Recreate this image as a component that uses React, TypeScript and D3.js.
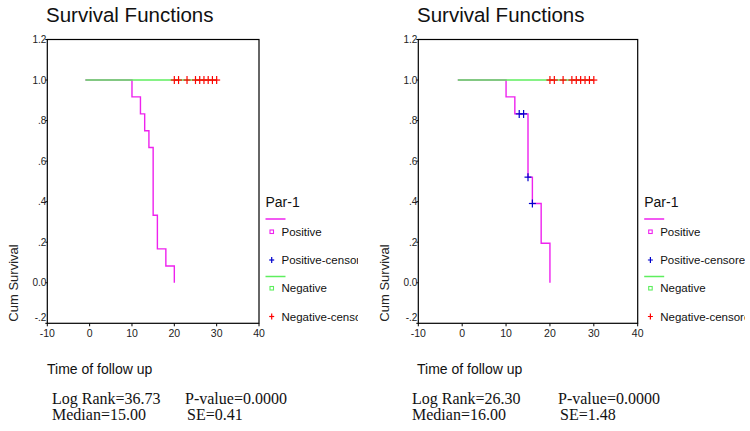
import React from "react";
import * as d3 from "d3";

const xTicks = [-10, 0, 10, 20, 30, 40];
const yTicks = [-0.2, 0, 0.2, 0.4, 0.6, 0.8, 1.0, 1.2];
const yTickLabels = ["-.2", "0.0", ".2", ".4", ".6", ".8", "1.0", "1.2"];

// Left panel
const leftPosTimes = [-1, 10, 12, 13, 14, 15, 16, 18, 20];
const leftPosSurv = [1, 0.917, 0.833, 0.75, 0.667, 0.333, 0.167, 0.083, 0];
const leftPosCensorTimes: number[] = [];
const leftPosCensorSurv: number[] = [];
// Right panel
const rightPosTimes = [-1, 10, 12, 15, 16, 18, 20];
const rightPosSurv = [1, 0.917, 0.833, 0.521, 0.391, 0.195, 0];
const rightPosCensorTimes = [13, 14, 15, 16];
const rightPosCensorSurv = [0.833, 0.833, 0.521, 0.391];
// Negative group (same in both)
const negTimes = [-1, 30];
const negSurv = [1, 1];
const negCensorTimes = [20, 21, 23, 25, 26, 27, 28, 29, 30];
const negCensorSurv = [1, 1, 1, 1, 1, 1, 1, 1, 1];

const legendTitle = "Par-1";
const legendLabels = ["Positive", "Positive-censored", "Negative", "Negative-censored"];

const leftStats = ["Log Rank=36.73", "P-value=0.0000", "Median=15.00", "SE=0.41"];
const rightStats = ["Log Rank=26.30", "P-value=0.0000", "Median=16.00", "SE=1.48"];

const MAGENTA = "#ee22ee";
const GREEN = "#5eee5e";
const RED = "#ff0000";
const BLUE = "#0000cc";
const SANS = "'Liberation Sans', Arial, sans-serif";
const SERIF = "'Liberation Serif', 'Times New Roman', serif";

type PanelProps = {
  id: string;
  x0: number;
  x1: number;
  clipRight: number;
  posTimes: number[];
  posSurv: number[];
  posCT: number[];
  posCS: number[];
  stats: string[];
  statsX: number;
  statsX2: number;
  titleX: number;
  axisLabelX: number;
  cumX: number;
};

function stepPath(
  times: number[],
  surv: number[],
  x: d3.ScaleLinear<number, number>,
  y: d3.ScaleLinear<number, number>
) {
  const pts: [number, number][] = times.map((t, i) => [t, surv[i]]);
  const line = d3
    .line<[number, number]>()
    .x((d) => x(d[0]))
    .y((d) => y(d[1]))
    .curve(d3.curveStepAfter);
  return line(pts) || "";
}

function Cross({ cx, cy, color, h = 3.5 }: { cx: number; cy: number; color: string; h?: number }) {
  return (
    <g stroke={color} strokeWidth={1.2}>
      <line x1={cx - h} x2={cx + h} y1={cy} y2={cy} />
      <line x1={cx} x2={cx} y1={cy - h - 0.5} y2={cy + h + 0.5} />
    </g>
  );
}

function Panel(p: PanelProps) {
  const y0 = 39.5;
  const y1 = 323.3;
  const x = d3.scaleLinear().domain([-10, 40]).range([p.x0, p.x1]);
  const y = d3.scaleLinear().domain([-0.2, 1.2]).range([y1, y0]);
  const lx = p.x1 + 6.5;
  return (
    <g>
      <defs>
        <clipPath id={`clip-${p.id}`}>
          <rect x={p.x1 + 1} y={150} width={p.clipRight - p.x1 - 1} height={200} />
        </clipPath>
      </defs>
      <text x={p.titleX} y={22} fontFamily={SANS} fontSize={20.5} fill="#111">
        Survival Functions
      </text>
      <rect x={p.x0} y={y0} width={p.x1 - p.x0} height={y1 - y0} fill="none" stroke="#000" strokeWidth={1.2} />
      {yTicks.map((t, i) => (
        <g key={`yt${i}`}>
          <line x1={p.x0 - 2} x2={p.x0} y1={y(t)} y2={y(t)} stroke="#000" />
          <text
            x={p.x0 - 1}
            y={y(t) + 3.5 - (i === 0 ? 6 : 0)}
            textAnchor="end"
            fontFamily={SANS}
            fontSize={10}
            fill="#222"
          >
            {yTickLabels[i]}
          </text>
        </g>
      ))}
      {xTicks.map((t, i) => (
        <g key={`xt${i}`}>
          <line x1={x(t)} x2={x(t)} y1={y1} y2={y1 + 3} stroke="#000" />
          <text x={x(t)} y={y1 + 13.5} textAnchor="middle" fontFamily={SANS} fontSize={10.5} fill="#222">
            {t}
          </text>
        </g>
      ))}
      <text
        transform={`translate(${p.cumX},${283}) rotate(-90)`}
        textAnchor="middle"
        fontFamily={SANS}
        fontSize={13}
        fill="#222"
      >
        Cum Survival
      </text>
      <text x={p.axisLabelX} y={374} fontFamily={SANS} fontSize={14} fill="#111">
        Time of follow up
      </text>
      {/* curves */}
      <path d={stepPath(p.posTimes, p.posSurv, x, y)} fill="none" stroke={MAGENTA} strokeWidth={1.4} />
      <path d={stepPath(negTimes, negSurv, x, y)} fill="none" stroke={GREEN} strokeWidth={1.6} />
      {p.posCT.map((t, i) => (
        <Cross key={`pc${i}`} cx={x(t)} cy={y(p.posCS[i])} color={BLUE} />
      ))}
      {negCensorTimes.map((t, i) => (
        <Cross key={`nc${i}`} cx={x(t)} cy={y(negCensorSurv[i])} color={RED} />
      ))}
      {/* legend */}
      <g clipPath={`url(#clip-${p.id})`}>
        <text x={lx} y={207} fontFamily={SANS} fontSize={14} fill="#111">
          {legendTitle}
        </text>
        <line x1={lx} x2={lx + 20} y1={219} y2={219} stroke={MAGENTA} strokeWidth={1.5} />
        <rect x={lx + 4.5} y={230} width={3.5} height={3.5} fill="none" stroke={MAGENTA} strokeWidth={1.1} />
        <text x={lx + 16} y={235.5} fontFamily={SANS} fontSize={11.5} fill="#111">
          {legendLabels[0]}
        </text>
        <Cross cx={lx + 6.2} cy={260} color={BLUE} h={2.5} />
        <text x={lx + 16} y={264} fontFamily={SANS} fontSize={11.5} fill="#111">
          {legendLabels[1]}
        </text>
        <line x1={lx} x2={lx + 20} y1={276.5} y2={276.5} stroke={GREEN} strokeWidth={1.5} />
        <rect x={lx + 4.5} y={286.5} width={3.5} height={3.5} fill="none" stroke={GREEN} strokeWidth={1.1} />
        <text x={lx + 16} y={292} fontFamily={SANS} fontSize={11.5} fill="#111">
          {legendLabels[2]}
        </text>
        <Cross cx={lx + 6.2} cy={316.5} color={RED} h={2.5} />
        <text x={lx + 16} y={320.5} fontFamily={SANS} fontSize={11.5} fill="#111">
          {legendLabels[3]}
        </text>
      </g>
      {/* stats */}
      <g fontFamily={SERIF} fontSize={16} fill="#111">
        <text x={p.statsX} y={404}>{p.stats[0]}</text>
        <text x={p.statsX2} y={404}>{p.stats[1]}</text>
        <text x={p.statsX} y={420}>{p.stats[2]}</text>
        <text x={p.statsX2 + 2} y={420}>{p.stats[3]}</text>
      </g>
    </g>
  );
}

export default function App() {
  return (
    <svg
      width={750}
      height={431}
      style={{ position: "absolute", left: 0, top: 0, background: "#fff" }}
    >
      <rect width={750} height={431} fill="#fff" />
      <Panel
        id="l"
        x0={47.3}
        x1={259}
        clipRight={358}
        posTimes={leftPosTimes}
        posSurv={leftPosSurv}
        posCT={leftPosCensorTimes}
        posCS={leftPosCensorSurv}
        stats={leftStats}
        statsX={52}
        statsX2={185}
        titleX={46}
        axisLabelX={47}
        cumX={18}
      />
      <Panel
        id="r"
        x0={418.3}
        x1={637.7}
        clipRight={745}
        posTimes={rightPosTimes}
        posSurv={rightPosSurv}
        posCT={rightPosCensorTimes}
        posCS={rightPosCensorSurv}
        stats={rightStats}
        statsX={412}
        statsX2={558}
        titleX={417}
        axisLabelX={417}
        cumX={389}
      />
    </svg>
  );
}
